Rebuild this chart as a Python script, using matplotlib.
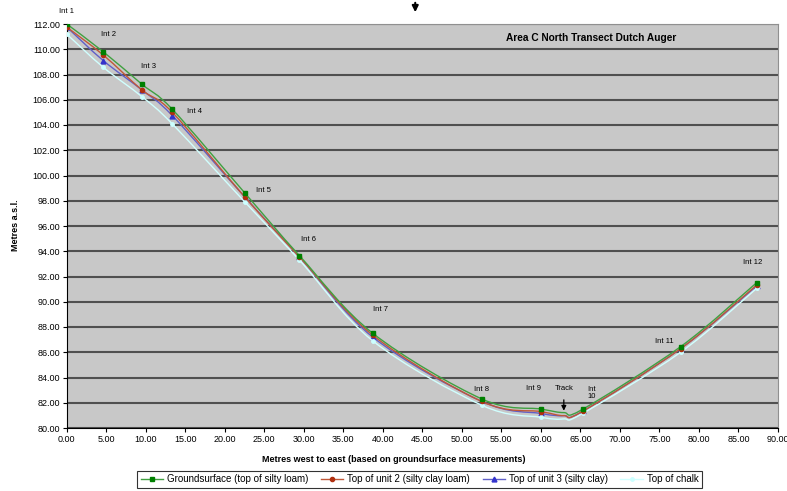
import numpy as np
import matplotlib
matplotlib.use("Agg")
import matplotlib.pyplot as plt
from matplotlib.path import Path
from matplotlib.patches import PathPatch
from matplotlib.lines import Line2D
from matplotlib.ticker import MultipleLocator, FormatStrFormatter

plt.rcParams['font.family'] = ['Liberation Sans', 'DejaVu Sans']

# distances along transect (m); index 9 is the track point (no auger hole)
distance = [0.0, 4.63, 9.53, 13.37, 22.57, 29.45, 38.73, 52.53, 60.0, 62.9, 65.27, 77.67, 87.3]
is_int = [True, True, True, True, True, True, True, True, True, False, True, True, True]
int_labels = ["Int 1", "Int 2", "Int 3", "Int 4", "Int 5", "Int 6", "Int 7",
              "Int 8", "Int 9", "", "Int\n10", "Int 11", "Int 12"]

ground = [112.0, 109.8, 107.22, 105.24, 98.59, 93.65, 87.5, 82.3, 81.5, 81.22, 81.48, 86.44, 91.51]
unit2 = [111.76, 109.54, 106.77, 105.0, 98.27, 93.55, 87.35, 82.1, 81.3, 80.98, 81.32, 86.28, 91.32]
unit3 = [111.76, 109.1, 106.77, 104.74, 98.27, 93.55, 87.2, 82.1, 81.15, 80.98, 81.32, 86.28, 91.25]
chalk = [111.2, 108.57, 106.24, 104.08, 97.88, 93.3, 86.9, 81.8, 80.85, 80.72, 81.15, 86.0, 91.06]

# label offsets (points) relative to the groundsurface marker
label_offsets = [(0, 9), (3.6, 12.2), (5, 13), (15.8, -1.4), (13, 2.2), (6.5, 11.5),
                 (5.8, 17.3), (0, 6.5), (-5, 15), (0, 0), (6.5, 12), (-12, 3.6), (-3, 14.4)]

track_x = 62.9
top_arrow_x = 44.1


def smooth_path(x, y):
    # excel-style smoothed line as cubic bezier segments
    pts = np.column_stack([x, y])
    n = len(pts)
    verts = [pts[0]]
    codes = [Path.MOVETO]
    for i in range(n - 1):
        p0 = pts[i - 1] if i > 0 else pts[i]
        p1, p2 = pts[i], pts[i + 1]
        p3 = pts[i + 2] if i + 2 < n else pts[i + 1]
        verts += [p1 + (p2 - p0) / 6, p2 - (p3 - p1) / 6, p2]
        codes += [Path.CURVE4] * 3
    return Path(verts, codes)


fig = plt.figure(figsize=(7.87, 4.91), dpi=100)
ax = fig.add_axes([66.7 / 787, 1 - 428 / 491, (778 - 66.7) / 787, (428 - 24) / 491])
ax.set_facecolor('#c8c8c8')

series = [
    (unit3, 'Top of unit 3 (silty clay)', '#6060c8', '#3333cc', '^', 3.5, 2),
    (chalk, 'Top of chalk', '#d0ffff', '#ccffff', 'o', 2.5, 3),
    (unit2, 'Top of unit 2 (silty clay loam)', '#c05838', '#b03010', 'o', 3, 4),
    (ground, 'Groundsurface (top of silty loam)', '#40a040', '#008000', 's', 3.5, 5),
]
handles = {}
for vals, name, lc, mc, mk, ms, z in series:
    ax.add_patch(PathPatch(smooth_path(distance, vals), fill=False, edgecolor=lc,
                           lw=1.0, zorder=z))
    ax.plot(distance, vals, linestyle='none', marker=mk, markersize=ms, color=mc,
            markeredgecolor=mc, markevery=is_int, zorder=z + 0.5)
    handles[name] = Line2D([], [], color=lc, lw=1.0, marker=mk, markersize=ms,
                           markerfacecolor=mc, markeredgecolor=mc)

for x, y, lab, off in zip(distance, ground, int_labels, label_offsets):
    if lab:
        ax.annotate(lab, (x, y), xytext=off, textcoords='offset points',
                    ha='center', va='center', fontsize=5.5, linespacing=1.0, zorder=8)

# track marker
ax.annotate('', xy=(track_x, 81.15), xytext=(track_x, 82.45),
            arrowprops=dict(arrowstyle='-|>', color='black', lw=0.9, mutation_scale=7), zorder=9)
ax.text(track_x, 83.1, 'Track', ha='center', va='center', fontsize=5.5)

# arrow above plot
ax.annotate('', xy=(top_arrow_x, 1 - 15 / 491), xycoords=('data', 'figure fraction'),
            xytext=(top_arrow_x, 1.0), textcoords=('data', 'figure fraction'),
            arrowprops=dict(arrowstyle='-|>', color='black', lw=1.5, mutation_scale=9),
            annotation_clip=False)

ax.set_xlim(0, 90)
ax.set_ylim(80, 112)
ax.xaxis.set_major_locator(MultipleLocator(5))
ax.yaxis.set_major_locator(MultipleLocator(2))
ax.xaxis.set_major_formatter(FormatStrFormatter('%.2f'))
ax.yaxis.set_major_formatter(FormatStrFormatter('%.2f'))
ax.tick_params(direction='out', length=3, width=0.8, labelsize=6.5, pad=2)
ax.grid(axis='y', color='#505050', lw=1.5, zorder=0)
ax.set_axisbelow(True)
for s in ['top', 'right']:
    ax.spines[s].set_color('#909090')
    ax.spines[s].set_linewidth(0.8)
for s in ['left', 'bottom']:
    ax.spines[s].set_color('black')
    ax.spines[s].set_linewidth(0.8)

ax.text(0.737, 0.965, 'Area C North Transect Dutch Auger', transform=ax.transAxes,
        ha='center', va='center', fontsize=7.3, fontweight='bold')
fig.text(15 / 787, 1 - 225 / 491, 'Metres a.s.l.', rotation=90, ha='center', va='center',
         fontsize=6.5, fontweight='bold')
fig.text(0.5, 1 - 459 / 491, 'Metres west to east (based on groundsurface measurements)',
         ha='center', va='center', fontsize=6.5, fontweight='bold')

order = ['Groundsurface (top of silty loam)', 'Top of unit 2 (silty clay loam)',
         'Top of unit 3 (silty clay)', 'Top of chalk']
leg = fig.legend([handles[k] for k in order], order, loc='center',
                 bbox_to_anchor=(419.5 / 787, 1 - 479.5 / 491), ncol=4, fontsize=7,
                 frameon=True, fancybox=False, edgecolor='black', handlelength=2.3,
                 columnspacing=1.3, handletextpad=0.4, borderpad=0.35)
leg.get_frame().set_linewidth(0.8)

fig.savefig('out.png', dpi=100)
